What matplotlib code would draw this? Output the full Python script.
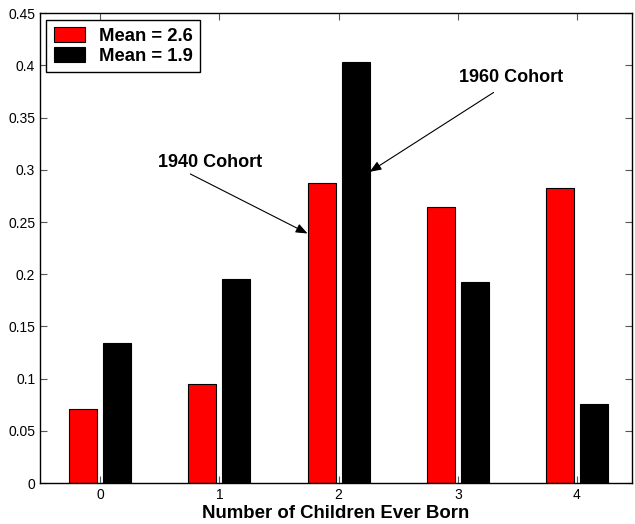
import numpy as np
import matplotlib
matplotlib.use('Agg')
import matplotlib.pyplot as plt

plt.rcParams['font.family'] = ['Liberation Sans', 'DejaVu Sans']

children = [0, 1, 2, 3, 4]
cohort_1940 = [0.071, 0.095, 0.287, 0.264, 0.283]
cohort_1960 = [0.134, 0.195, 0.403, 0.193, 0.076]
legend_labels = ['Mean = 2.6', 'Mean = 1.9']

fig = plt.figure(figsize=(6.35, 5.24), dpi=100)
ax = fig.add_axes([0.063, 0.078, 0.932, 0.897])

x = np.array(children)
width = 0.235
offset = 0.143
ax.bar(x - offset, cohort_1940, width, color='#ff0000', edgecolor='black',
       linewidth=0.8, label=legend_labels[0])
ax.bar(x + offset, cohort_1960, width, color='black', edgecolor='black',
       linewidth=0.8, label=legend_labels[1])

ax.set_xlim(-0.505, 4.46)
ax.set_ylim(0, 0.45)
ax.set_xticks(children)
ax.set_yticks(np.arange(0, 0.451, 0.05))
ax.set_yticklabels(['0', '0.05', '0.1', '0.15', '0.2', '0.25', '0.3', '0.35', '0.4', '0.45'])
ax.tick_params(direction='in', length=5, width=0.8, labelsize=10,
               top=True, right=True, color='#555555')
for s in ax.spines.values():
    s.set_linewidth(1.0)

ax.set_xlabel('Number of Children Ever Born', fontsize=13.4, fontweight='bold', labelpad=2)

# labels and arrows drawn separately so the tails sit where the original has them
arrow = dict(arrowstyle='-|>,head_length=0.5,head_width=0.2', color='black',
             lw=0.8, shrinkA=0, shrinkB=0, mutation_scale=14)
ax.text(0.92, 0.307, '1940 Cohort', ha='center', va='center',
        fontsize=13, fontweight='bold')
ax.annotate('', xy=(2 - offset - width / 2, 0.239), xytext=(0.756, 0.296),
            arrowprops=arrow)
ax.text(3.45, 0.388, '1960 Cohort', ha='center', va='center',
        fontsize=13, fontweight='bold')
ax.annotate('', xy=(2 + offset + width / 2, 0.298), xytext=(3.30, 0.374),
            arrowprops=arrow)

leg = ax.legend(loc='upper left', prop={'weight': 'bold', 'size': 13.3},
                fancybox=False, edgecolor='black', framealpha=1,
                handlelength=1.7, handleheight=0.9, handletextpad=0.75,
                borderaxespad=0.35, borderpad=0.4, labelspacing=0.1)
leg.get_frame().set_linewidth(1.0)

fig.savefig('out.png', dpi=100)
